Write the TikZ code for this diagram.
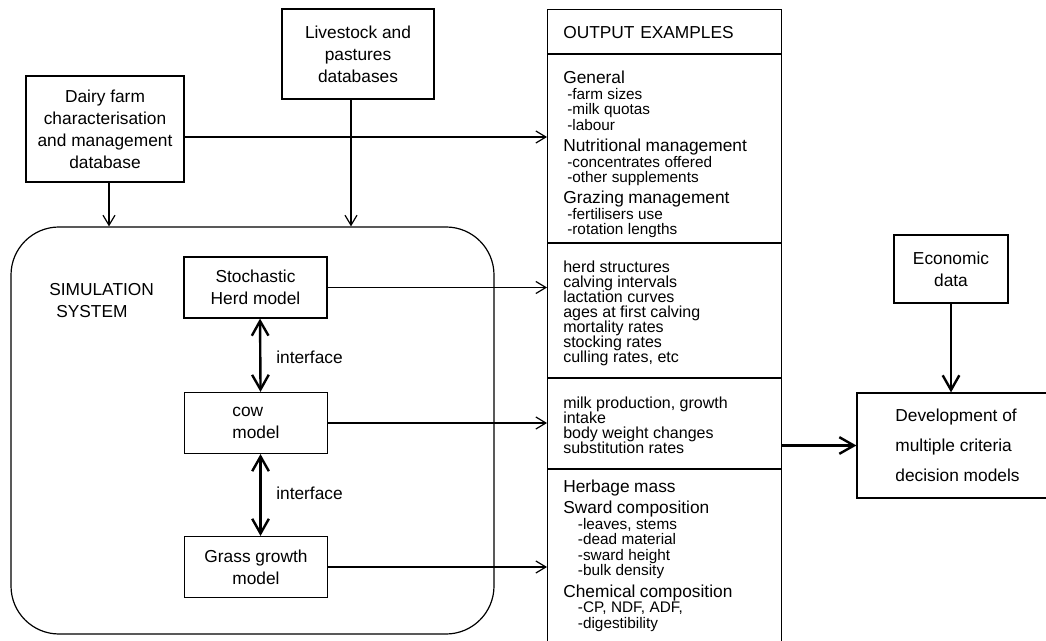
\documentclass[tikz,border=0pt]{standalone}
\usepackage{fontspec}
\setmainfont{Liberation Sans}
\usetikzlibrary{arrows.meta}

\newcommand{\headfont}{\fontsize{13}{16}\selectfont}
\newcommand{\subfont}{\fontsize{11.5}{11.6}\selectfont}
\newcommand{\listfont}{\fontsize{12}{11.25}\selectfont}

\tikzset{
  box/.style={draw,line width=0.9pt,align=center,inner sep=2pt,font=\fontsize{13}{16.5}\selectfont},
  link/.style={line width=0.9pt,-{Straight Barb[length=7.5pt,width=9pt]}},
  biglink/.style={line width=1.8pt,-{Straight Barb[length=11pt,width=12.5pt]}},
  interfacelink/.style={line width=1.8pt,{Straight Barb[length=11pt,width=12.5pt]}-{Straight Barb[length=11pt,width=12.5pt]}},
  section/.style={anchor=base west,inner sep=0pt,text width=165pt,align=left}
}

\begin{document}
\begin{tikzpicture}[x=0.75pt,y=-0.75pt]
    \useasboundingbox (0,0) rectangle (1046,641);
    \clip (0,0) rectangle (1046,641);

    % databases
    \node[box,minimum width=118.5pt,minimum height=79.5pt] (dairy) at (105,129) {Dairy farm\\characterisation\\and management\\database};
    \node[box,minimum width=114pt,minimum height=67.5pt] (lstk) at (358,54) {Livestock and\\pastures\\databases};

    % simulation system
    \node[draw,line width=0.9pt,rounded corners=36pt,minimum width=362.25pt,minimum height=305.25pt] (sim) at (252.5,430.5) {};
    \node[anchor=west,align=left,inner sep=0pt,font=\fontsize{13}{16.5}\selectfont] (simlabel) at (49,301) {SIMULATION\\\hspace*{5.25pt}SYSTEM};
    \node[box,minimum width=107.25pt,minimum height=45.75pt] (herd) at (255.5,287.5) {Stochastic\\Herd model};
    \node[box,align=left,minimum width=107.25pt,minimum height=45.75pt] (cow) at (256,423) {cow\\model};
    \node[box,minimum width=107.25pt,minimum height=45.75pt] (grass) at (256,567) {Grass growth\\model};
    \node[anchor=west,inner sep=0pt,font=\headfont] (itf1) at (276,357) {interface};
    \node[anchor=west,inner sep=0pt,font=\headfont] (itf2) at (276,493) {interface};

    % output examples
    \node[draw,line width=0.9pt,anchor=north west,minimum width=175.5pt,minimum height=500pt] (out) at (547,9) {};
    \foreach \y in {54,243,378,469}
        \draw[line width=0.9pt] (out.west |- 0,\y) -- (out.east |- 0,\y);
    \node[section,font=\headfont] (ttl) at (563,39) {OUTPUT EXAMPLES};
    \node[section] (gen) at (563,84) {%
        {\headfont General\par}
        {\subfont\leftskip=3pt -farm sizes\\-milk quotas\\-labour\par}
        {\headfont Nutritional management\par}
        {\subfont\leftskip=3pt -concentrates offered\\-other supplements\par}
        {\headfont Grazing management\par}
        {\subfont\leftskip=3pt -fertilisers use\\-rotation lengths\par}};
    \node[section] (herdout) at (563,273) {%
        {\listfont herd structures\\calving intervals\\lactation curves\\ages at first calving\\mortality rates\\stocking rates\\culling rates, etc\par}};
    \node[section] (cowout) at (563,409) {%
        {\listfont milk production, growth\\intake\\body weight changes\\substitution rates\par}};
    \node[section] (grassout) at (563,492) {%
        {\headfont Herbage mass\par}
        {\fontsize{13}{16.5}\selectfont Sward composition\par}
        {\subfont\leftskip=11pt -leaves, stems\\-dead material\\-sward height\\-bulk density\par}
        {\headfont Chemical composition\par}
        {\subfont\leftskip=11pt -CP, NDF, ADF,\\-digestibility\par}};

    % decision models
    \node[box,minimum width=85.5pt,minimum height=51pt] (econ) at (951,269) {Economic\\data};
    \node[box,align=left,minimum width=150.75pt,minimum height=78.75pt,font=\fontsize{13}{22.5}\selectfont] (mcdm) at (957.5,445.5) {Development of\\multiple criteria\\decision models};

    % connectors
    \draw[link] ([yshift=-6pt]dairy.east) -- ([yshift=-6pt]dairy.east -| out.west);
    \draw[link] ([xshift=3pt]dairy.south) -- ([xshift=3pt]dairy.south |- sim.north);
    \draw[link] ([xshift=-5.25pt]lstk.south) -- ([xshift=-5.25pt]lstk.south |- sim.north);
    \foreach \m in {herd,cow,grass}
        \draw[link] (\m.east) -- (\m.east -| out.west);
    \draw[interfacelink] ([xshift=3.4pt]herd.south) -- ([xshift=3.4pt]cow.north);
    \draw[interfacelink] ([xshift=3.4pt]cow.south) -- ([xshift=3.4pt]grass.north);
    \draw[biglink] (mcdm.west -| out.east) -- (mcdm.west);
    \draw[biglink] (econ.south) -- (econ.south |- mcdm.north);
\end{tikzpicture}
\end{document}
